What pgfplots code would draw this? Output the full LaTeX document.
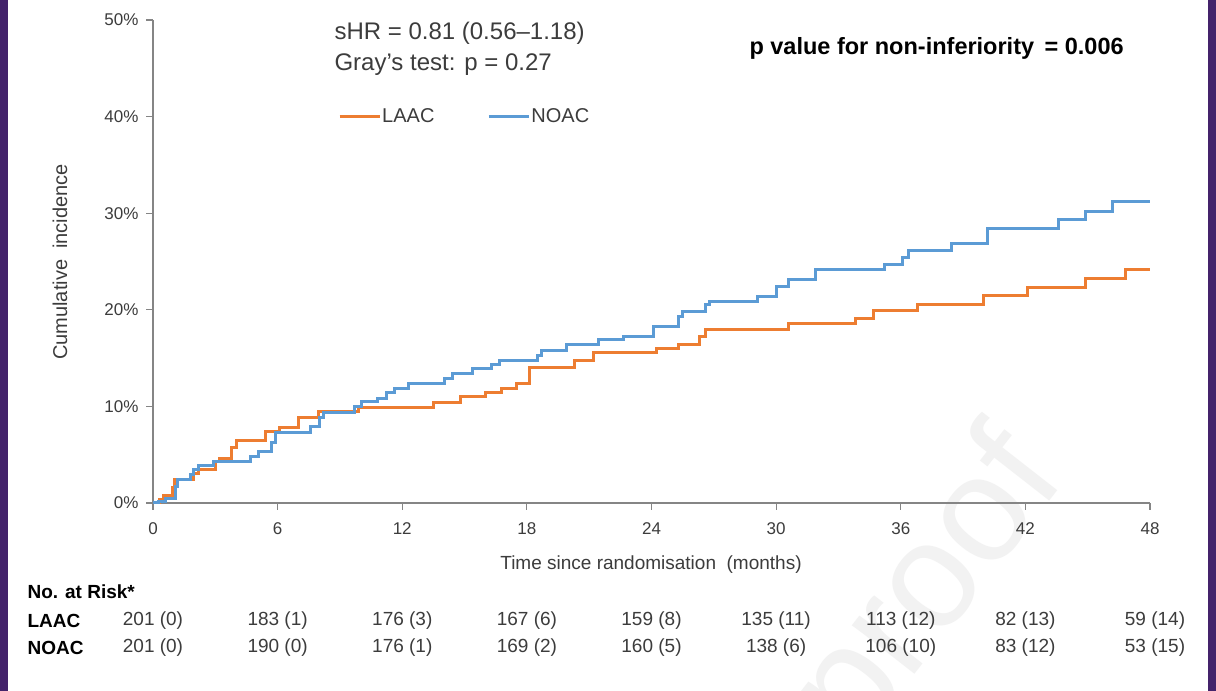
\documentclass[border=0pt]{standalone}
\usepackage{pgfplots}
\pgfplotsset{compat=1.18}
\usepackage{fontspec}
\setmainfont{Liberation Sans}
\definecolor{laac}{HTML}{ED7D31}
\definecolor{noac}{HTML}{5B9BD5}
\definecolor{frame}{HTML}{44236B}
\definecolor{axgray}{HTML}{858585}
\definecolor{txt}{HTML}{3C3C3C}
\newcommand{\fs}[1]{\fontsize{#1}{#1}\selectfont}
\begin{document}
\begin{tikzpicture}[x=1pt,y=1pt]
\fill[white] (0,0) rectangle (1216,691);
\fill[frame] (0,0) rectangle (8,691);
\fill[frame] (1208,0) rectangle (1216,691);
\begin{scope}
\clip (8,0) rectangle (1208,691);
\node[rotate=52,text=black!5,font=\fs{150},anchor=base east] at (1070,215) {Journal Pre-proof};
\end{scope}
\begin{axis}[
  at={(153pt,188pt)}, anchor=south west,
  width=997pt, height=483pt, scale only axis,
  xmin=0, xmax=48, ymin=0, ymax=50,
  axis x line=bottom, axis y line=left,
  axis line style={axgray, line width=1.4pt, -},
  xtick={0,6,...,48}, ytick={0,10,...,50},
  tick align=outside, major tick length=7pt,
  tick style={axgray, line width=1.2pt},
  /pgf/number format/assume math mode=true,
  yticklabel={\pgfmathprintnumber{\tick}\%},
  ticklabel style={text=txt, font=\fs{17}},
  xticklabel style={yshift=-9pt},
  yticklabel style={xshift=-4pt},
  clip=false,
  legend columns=2,
  legend style={at={(0.1856,0.801)}, anchor=west, draw=none, fill=none,
    inner xsep=0pt, inner ysep=0pt, font=\fs{20},
    nodes={text=txt, inner sep=1pt},
    /tikz/every even column/.append style={column sep=52pt}},
  legend image code/.code={\draw[#1] (0pt,0pt) -- (40pt,0pt);},
]
\addplot[laac, line width=3pt, const plot] coordinates {
(0,0) (0.3,0.4) (0.5,0.8) (0.95,1.6) (1.05,2.4) (1.95,3.1) (2.2,3.5)
(3.0,4.3) (3.2,4.6) (3.8,5.7) (4.0,6.5) (5.4,7.4) (6.1,7.8) (7.0,8.9)
(7.95,9.45) (9.9,9.9) (13.5,10.4) (14.8,11.0) (16.0,11.4) (16.8,11.9)
(17.5,12.4) (18.15,14.0) (20.3,14.8) (21.2,15.55) (24.25,16.0) (25.3,16.4)
(26.3,17.2) (26.6,18.0) (30.6,18.6) (33.8,19.1) (34.7,19.9) (36.8,20.6)
(40.0,21.5) (42.1,22.3) (44.9,23.2) (46.8,24.2) (48,24.2)};
\addlegendentry{LAAC}
\addplot[noac, line width=3pt, const plot] coordinates {
(0,0) (0.25,0.2) (0.6,0.5) (1.1,1.7) (1.2,2.4) (1.8,2.9) (1.95,3.5)
(2.2,3.9) (2.9,4.3) (4.7,4.8) (5.1,5.3) (5.7,6.3) (5.9,7.3) (7.6,7.9)
(8.0,8.9) (8.2,9.4) (9.7,10.0) (10.05,10.5) (10.8,10.8) (11.25,11.4)
(11.65,11.9) (12.3,12.4) (14.05,12.9) (14.4,13.4) (15.4,13.9) (16.3,14.3)
(16.7,14.8) (18.5,15.3) (18.7,15.8) (19.9,16.4) (21.45,16.9) (22.65,17.2)
(24.1,18.25) (25.3,19.3) (25.5,19.8) (26.6,20.5) (26.8,20.9) (29.1,21.4)
(30.0,22.4) (30.6,23.1) (31.9,24.2) (35.2,24.7) (36.1,25.4) (36.35,26.1)
(38.45,26.9) (40.2,28.4) (43.6,29.3) (44.9,30.2) (46.2,31.2) (48,31.2)};
\addlegendentry{NOAC}
\end{axis}
\node[anchor=west, text=txt, font=\fs{24}] at (331,658) {sHR = 0.81 (0.56–1.18)};
\node[anchor=west, text=txt, font=\fs{24}] at (331,626) {Gray’s test: p = 0.27};
\node[anchor=west, font=\bfseries\fs{23.5}] at (746,643) {p value for non-inferiority \,= 0.006};
\node[text=txt, font=\fs{19}] at (651,126) {Time since randomisation\ \ (months)};
\node[rotate=90, text=txt, font=\fs{20}] at (60,429) {Cumulative\ \ incidence};
\node[anchor=west, font=\bfseries\fs{19}] at (24,99) {No. at Risk*};
\node[anchor=west, font=\bfseries\fs{19}] at (24,70) {LAAC};
\node[anchor=west, font=\bfseries\fs{19}] at (24,43) {NOAC};
\foreach \xx/\a/\b in {153/201 (0)/201 (0), 277.6/183 (1)/190 (0), 402.3/176 (3)/176 (1),
  526.9/167 (6)/169 (2), 651.5/159 (8)/160 (5), 776.1/135 (11)/138 (6),
  900.8/113 (12)/106 (10), 1025.4/82 (13)/83 (12), 1155/59 (14)/53 (15)} {
  \node[text=txt, font=\fs{19}] at (\xx,70) {\a};
  \node[text=txt, font=\fs{19}] at (\xx,43) {\b};
}
\pgfresetboundingbox
\path[use as bounding box] (0,0) rectangle (1216,691);
\end{tikzpicture}
\end{document}
